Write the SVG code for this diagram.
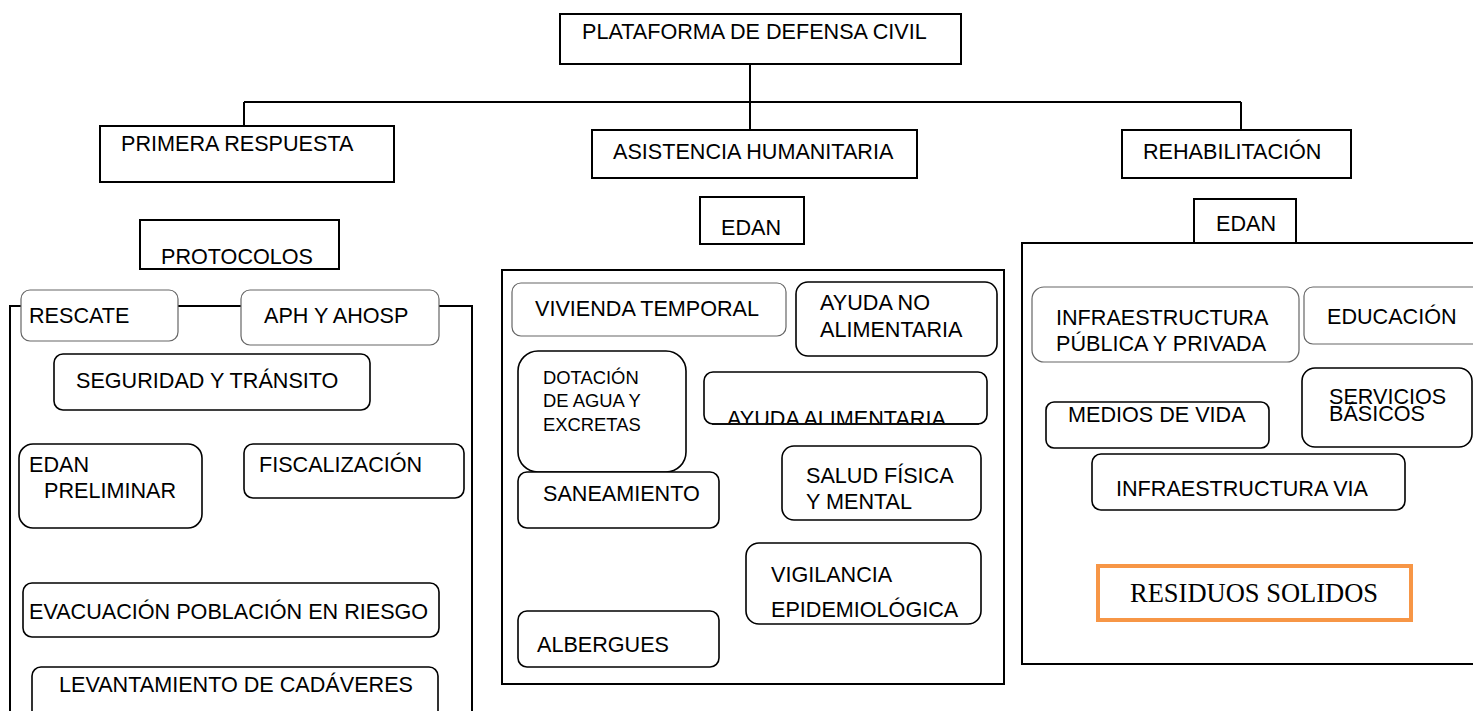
<svg xmlns="http://www.w3.org/2000/svg" width="1473" height="711" viewBox="0 0 1473 711">
<style>
.t{font-family:"Liberation Sans",Arial,sans-serif;font-size:21.6px;fill:#000}
.s{font-size:18.4px}
.box{fill:#fff;stroke:#000;stroke-width:2}
.frame{fill:none;stroke:#000;stroke-width:2}
.rb{fill:#fff;stroke:#000;stroke-width:1.6}
.rl{fill:#fff;stroke:#666;stroke-width:1.2}
.ln{fill:none;stroke:#000;stroke-width:2}
</style>
<defs>
<clipPath id="clipAA"><rect x="700" y="370" width="290" height="53"/></clipPath>
</defs>
<rect width="1473" height="711" fill="#fff"/>
<g id="connectors">
<path class="ln" d="M750 64V130M244 102H1241M244 102V126M1241 102V130"/>
</g>
<g id="frame-primera"><rect class="frame" x="10" y="306" width="462" height="420"/></g>
<g id="frame-asistencia"><rect class="frame" x="502" y="270" width="502" height="414"/></g>
<g id="frame-rehab"><rect class="frame" x="1022" y="243" width="470" height="421"/></g>
<g id="n-plataforma"><rect class="box" x="560" y="14" width="401" height="50"/><text class="t" x="582" y="39">PLATAFORMA DE DEFENSA CIVIL</text></g>
<g id="n-primera"><rect class="box" x="100" y="126" width="294" height="56"/><text class="t" x="121" y="151">PRIMERA RESPUESTA</text></g>
<g id="n-asistencia"><rect class="box" x="592" y="130" width="325" height="48"/><text class="t" x="613" y="159">ASISTENCIA HUMANITARIA</text></g>
<g id="n-rehab"><rect class="box" x="1122" y="130" width="229" height="48"/><text class="t" x="1143" y="159">REHABILITACIÓN</text></g>
<g id="n-protocolos"><rect class="box" x="140" y="220" width="199" height="49"/><text class="t" x="161" y="264">PROTOCOLOS</text></g>
<g id="n-edan1"><rect class="box" x="700" y="197" width="104" height="47"/><text class="t" x="721" y="235">EDAN</text></g>
<g id="n-edan2"><rect class="box" x="1194" y="199" width="102" height="44"/><text class="t" x="1216" y="231">EDAN</text></g>
<g id="n-rescate"><rect class="rl" x="21" y="290" width="157" height="51" rx="9"/><text class="t" x="29" y="323">RESCATE</text></g>
<g id="n-aph"><rect class="rl" x="241" y="290" width="198" height="55" rx="9"/><text class="t" x="264" y="323">APH Y AHOSP</text></g>
<g id="n-seguridad"><rect class="rb" x="54" y="354" width="316" height="56" rx="9"/><text class="t" x="76" y="388">SEGURIDAD Y TRÁNSITO</text></g>
<g id="n-edanpre"><rect class="rb" x="19" y="444" width="183" height="84" rx="14"/><text class="t" x="29" y="472">EDAN</text><text class="t" x="44" y="498">PRELIMINAR</text></g>
<g id="n-fiscal"><rect class="rb" x="244" y="444" width="220" height="54" rx="9"/><text class="t" x="259" y="472">FISCALIZACIÓN</text></g>
<g id="n-evac"><rect class="rb" x="23" y="583" width="416" height="54" rx="9"/><text class="t" x="29" y="619">EVACUACIÓN POBLACIÓN EN RIESGO</text></g>
<g id="n-levant"><rect class="rb" x="32" y="667" width="406" height="56" rx="9"/><text class="t" x="59" y="692">LEVANTAMIENTO DE CADÁVERES</text></g>
<g id="n-vivienda"><rect class="rl" x="512" y="283" width="274" height="53" rx="9"/><text class="t" x="535" y="316">VIVIENDA TEMPORAL</text></g>
<g id="n-ayudano"><rect class="rb" x="796" y="282" width="201" height="74" rx="12"/><text class="t" x="820" y="310">AYUDA NO</text><text class="t" x="820" y="337">ALIMENTARIA</text></g>
<g id="n-dotacion"><rect class="rb" x="518" y="351" width="168" height="121" rx="20"/><text class="t s" x="543" y="384">DOTACIÓN</text><text class="t s" x="543" y="407">DE AGUA Y</text><text class="t s" x="543" y="431">EXCRETAS</text></g>
<g id="n-ayudaal"><rect class="rb" x="704" y="372" width="283" height="52" rx="9"/><text class="t" x="727" y="426" clip-path="url(#clipAA)">AYUDA ALIMENTARIA</text><path d="M712 424H979" stroke="#000" stroke-width="1.6"/></g>
<g id="n-saneam"><rect class="rb" x="518" y="472" width="201" height="56" rx="9"/><text class="t" x="543" y="501">SANEAMIENTO</text></g>
<g id="n-salud"><rect class="rb" x="782" y="446" width="199" height="74" rx="12"/><text class="t" x="806" y="483">SALUD FÍSICA</text><text class="t" x="806" y="509">Y MENTAL</text></g>
<g id="n-vigil"><rect class="rb" x="746" y="543" width="235" height="81" rx="13"/><text class="t" x="771" y="582">VIGILANCIA</text><text class="t" x="771" y="617">EPIDEMIOLÓGICA</text></g>
<g id="n-alberg"><rect class="rb" x="518" y="611" width="201" height="56" rx="9"/><text class="t" x="537" y="652">ALBERGUES</text></g>
<g id="n-infra"><rect class="rl" x="1032" y="287" width="267" height="75" rx="12"/><text class="t" x="1056" y="325">INFRAESTRUCTURA</text><text class="t" x="1056" y="351">PÚBLICA Y PRIVADA</text></g>
<g id="n-educ"><rect class="rl" x="1304" y="287" width="190" height="57" rx="9"/><text class="t" x="1327" y="324">EDUCACIÓN</text></g>
<g id="n-medios"><rect class="rb" x="1046" y="402" width="223" height="46" rx="8"/><text class="t" x="1068" y="422">MEDIOS DE VIDA</text></g>
<g id="n-servicios"><rect class="rb" x="1302" y="368" width="170" height="79" rx="13"/><text class="t" x="1329" y="404">SERVICIOS</text><text class="t" x="1329" y="421">BÁSICOS</text></g>
<g id="n-infravia"><rect class="rb" x="1092" y="454" width="313" height="56" rx="9"/><text class="t" x="1116" y="496">INFRAESTRUCTURA VIA</text></g>
<g id="n-residuos"><rect x="1098" y="566" width="313" height="54" fill="#fff" stroke="#F79646" stroke-width="4"/><text x="1130" y="602" font-family="'Liberation Serif','Times New Roman',serif" font-size="26.5" fill="#000">RESIDUOS SOLIDOS</text></g>
</svg>
